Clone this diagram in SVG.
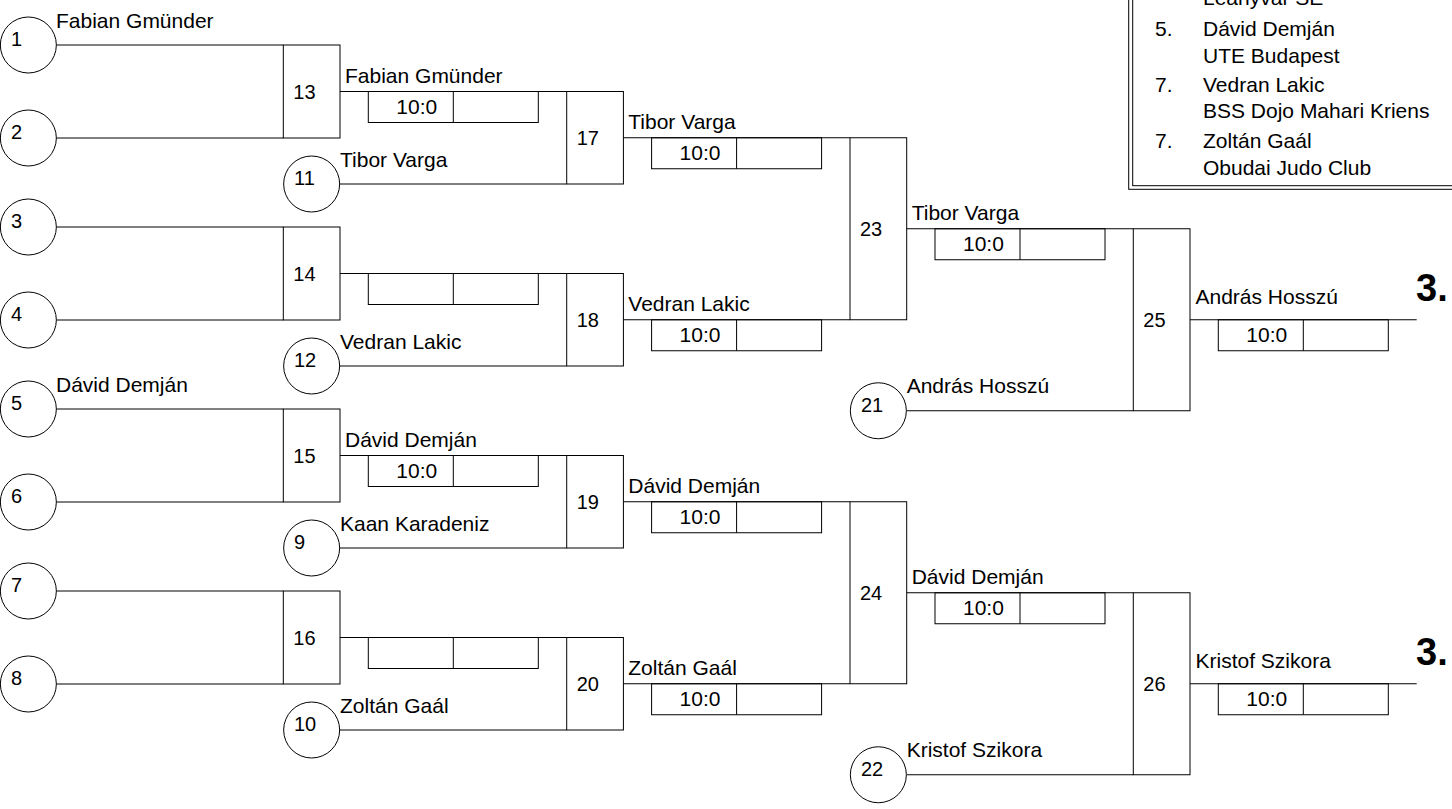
<svg xmlns="http://www.w3.org/2000/svg" width="1452" height="809" viewBox="0 0 1452 809">
<style>
text{font-family:"Liberation Sans",Arial,sans-serif;font-size:21px;fill:#000}
.n{font-size:20px}
.ln{stroke:#000;stroke-width:1;fill:none}
.bx{stroke:#000;stroke-width:1;fill:none}
.c{stroke:#000;stroke-width:1;fill:#fff}
.big{font-size:38px;font-weight:bold}
</style>
<rect width="1452" height="809" fill="#fff"/>
<g id="legend">
<rect x="1128.7" y="-10" width="340" height="199.3" class="bx"/>
<rect x="1132.7" y="-10" width="340" height="195.7" class="bx"/>
<text x="1203" y="5">Leányvár SE</text>
<text x="1155" y="36">5.</text><text x="1203" y="36">Dávid Demján</text>
<text x="1203" y="63">UTE Budapest</text>
<text x="1155" y="92">7.</text><text x="1203" y="92">Vedran Lakic</text>
<text x="1203" y="118">BSS Dojo Mahari Kriens</text>
<text x="1155" y="148">7.</text><text x="1203" y="148">Zoltán Gaál</text>
<text x="1203" y="175">Obudai Judo Club</text>
</g>
<g id="connectors" class="ln">
<path d="M56.7 45H283.3M56.7 138H283.3M56.7 227H283.3M56.7 320H283.3M56.7 409H283.3M56.7 502H283.3M56.7 591H283.3M56.7 684H283.3"/>
<path d="M340 184H566.7M340 366H566.7M340 548H566.7M340 730H566.7"/>
<path d="M340 91.5H566.7M340 273.5H566.7M340 455.5H566.7M340 637.5H566.7"/>
<path d="M623.3 137.75H850M623.3 319.75H850M623.3 501.75H850M623.3 683.75H850"/>
<path d="M906.7 228.75H1133.3M906.7 592.75H1133.3M906.7 410.75H1133.3M906.7 774.75H1133.3"/>
<path d="M1190 319.75H1416.7M1190 683.75H1416.7"/>
</g>
<g id="p1"><circle cx="28.35" cy="45" r="28" class="c"/><text class="n" x="11" y="46">1</text><text x="56" y="28">Fabian Gmünder</text></g>
<g id="p2"><circle cx="28.35" cy="138" r="28" class="c"/><text class="n" x="11" y="139">2</text></g>
<g id="p3"><circle cx="28.35" cy="227" r="28" class="c"/><text class="n" x="11" y="228">3</text></g>
<g id="p4"><circle cx="28.35" cy="320" r="28" class="c"/><text class="n" x="11" y="321">4</text></g>
<g id="p5"><circle cx="28.35" cy="409" r="28" class="c"/><text class="n" x="11" y="410">5</text><text x="56" y="392">Dávid Demján</text></g>
<g id="p6"><circle cx="28.35" cy="502" r="28" class="c"/><text class="n" x="11" y="503">6</text></g>
<g id="p7"><circle cx="28.35" cy="591" r="28" class="c"/><text class="n" x="11" y="592">7</text></g>
<g id="p8"><circle cx="28.35" cy="684" r="28" class="c"/><text class="n" x="11" y="685">8</text></g>
<g id="p11"><circle cx="311.65" cy="184" r="28" class="c"/><text class="n" x="294" y="185">11</text><text x="340" y="166.5">Tibor Varga</text></g>
<g id="p12"><circle cx="311.65" cy="366" r="28" class="c"/><text class="n" x="294" y="367">12</text><text x="340" y="348.5">Vedran Lakic</text></g>
<g id="p9"><circle cx="311.65" cy="548" r="28" class="c"/><text class="n" x="294" y="549">9</text><text x="340" y="530.5">Kaan Karadeniz</text></g>
<g id="p10"><circle cx="311.65" cy="730" r="28" class="c"/><text class="n" x="294" y="731">10</text><text x="340" y="712.5">Zoltán Gaál</text></g>
<g id="p21"><circle cx="878.35" cy="410.75" r="28" class="c"/><text class="n" x="861" y="411.75">21</text><text x="906.7" y="393">András Hosszú</text></g>
<g id="p22"><circle cx="878.35" cy="774.75" r="28" class="c"/><text class="n" x="861" y="775.75">22</text><text x="906.7" y="757">Kristof Szikora</text></g>
<g id="m13"><rect x="283.3" y="45" width="56.7" height="93" class="bx"/><text class="n" x="293.3" y="98.5">13</text>
<text x="345" y="83">Fabian Gmünder</text><rect x="368.3" y="91.5" width="170" height="31" class="bx"/><path d="M453.3 91.5v31" class="ln"/><text x="396.3" y="113.5">10:0</text></g>
<g id="m14"><rect x="283.3" y="227" width="56.7" height="93" class="bx"/><text class="n" x="293.3" y="280.5">14</text>
<rect x="368.3" y="273.5" width="170" height="31" class="bx"/><path d="M453.3 273.5v31" class="ln"/></g>
<g id="m15"><rect x="283.3" y="409" width="56.7" height="93" class="bx"/><text class="n" x="293.3" y="462.5">15</text>
<text x="345" y="447">Dávid Demján</text><rect x="368.3" y="455.5" width="170" height="31" class="bx"/><path d="M453.3 455.5v31" class="ln"/><text x="396.3" y="477.5">10:0</text></g>
<g id="m16"><rect x="283.3" y="591" width="56.7" height="93" class="bx"/><text class="n" x="293.3" y="644.5">16</text>
<rect x="368.3" y="637.5" width="170" height="31" class="bx"/><path d="M453.3 637.5v31" class="ln"/></g>
<g id="m17"><rect x="566.7" y="91.5" width="56.7" height="92.5" class="bx"/><text class="n" x="576.7" y="144.75">17</text>
<text x="628.3" y="129">Tibor Varga</text><rect x="651.6" y="137.75" width="170" height="31" class="bx"/><path d="M736.6 137.75v31" class="ln"/><text x="679.6" y="159.75">10:0</text></g>
<g id="m18"><rect x="566.7" y="273.5" width="56.7" height="92.5" class="bx"/><text class="n" x="576.7" y="326.75">18</text>
<text x="628.3" y="311">Vedran Lakic</text><rect x="651.6" y="319.75" width="170" height="31" class="bx"/><path d="M736.6 319.75v31" class="ln"/><text x="679.6" y="341.75">10:0</text></g>
<g id="m19"><rect x="566.7" y="455.5" width="56.7" height="92.5" class="bx"/><text class="n" x="576.7" y="508.75">19</text>
<text x="628.3" y="493">Dávid Demján</text><rect x="651.6" y="501.75" width="170" height="31" class="bx"/><path d="M736.6 501.75v31" class="ln"/><text x="679.6" y="523.75">10:0</text></g>
<g id="m20"><rect x="566.7" y="637.5" width="56.7" height="92.5" class="bx"/><text class="n" x="576.7" y="690.75">20</text>
<text x="628.3" y="675">Zoltán Gaál</text><rect x="651.6" y="683.75" width="170" height="31" class="bx"/><path d="M736.6 683.75v31" class="ln"/><text x="679.6" y="705.75">10:0</text></g>
<g id="m23"><rect x="850" y="137.75" width="56.7" height="182" class="bx"/><text class="n" x="860" y="235.75">23</text>
<text x="911.7" y="220">Tibor Varga</text><rect x="935" y="228.75" width="170" height="31" class="bx"/><path d="M1020 228.75v31" class="ln"/><text x="963" y="250.75">10:0</text></g>
<g id="m24"><rect x="850" y="501.75" width="56.7" height="182" class="bx"/><text class="n" x="860" y="599.75">24</text>
<text x="911.7" y="584">Dávid Demján</text><rect x="935" y="592.75" width="170" height="31" class="bx"/><path d="M1020 592.75v31" class="ln"/><text x="963" y="614.75">10:0</text></g>
<g id="m25"><rect x="1133.3" y="228.75" width="56.7" height="182" class="bx"/><text class="n" x="1143.3" y="326.75">25</text>
<text x="1195.5" y="304">András Hosszú</text><rect x="1218.3" y="319.75" width="170" height="31" class="bx"/><path d="M1303.3 319.75v31" class="ln"/><text x="1246.3" y="341.75">10:0</text>
<text x="1416" y="301" class="big">3.</text></g>
<g id="m26"><rect x="1133.3" y="592.75" width="56.7" height="182" class="bx"/><text class="n" x="1143.3" y="690.75">26</text>
<text x="1195.5" y="668">Kristof Szikora</text><rect x="1218.3" y="683.75" width="170" height="31" class="bx"/><path d="M1303.3 683.75v31" class="ln"/><text x="1246.3" y="705.75">10:0</text>
<text x="1416" y="665" class="big">3.</text></g>
</svg>
